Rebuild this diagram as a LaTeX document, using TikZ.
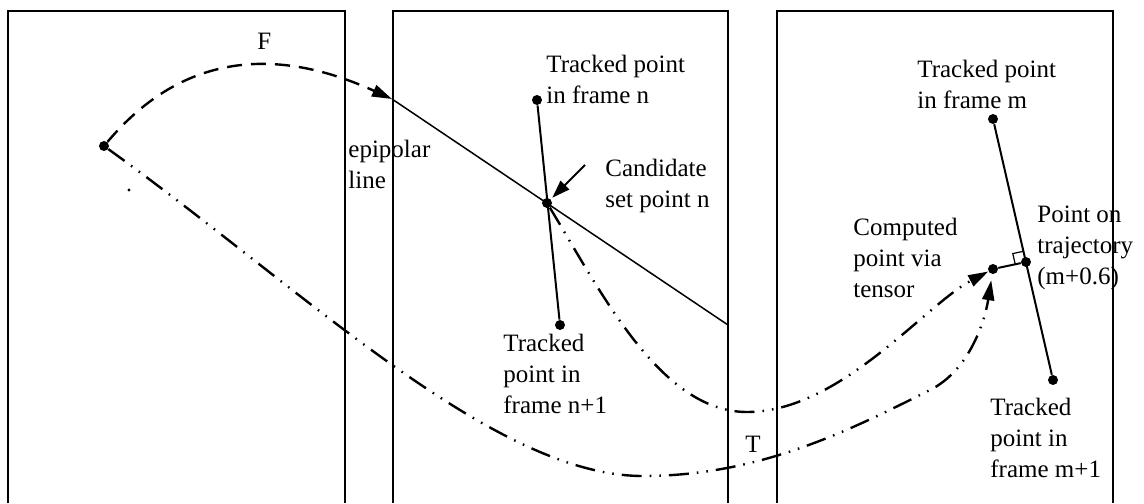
\documentclass[tikz,border=0pt]{standalone}
\usepackage{fontspec}
\setmainfont{Liberation Serif}
\usetikzlibrary{arrows.meta, positioning, calc}

\begin{document}
\begin{tikzpicture}[x=0.5pt, y=-0.5pt,
    every node/.style={font=\fontsize{12.5}{15.5}\selectfont},
    ptdot/.style={circle, fill, inner sep=0pt, minimum size=5pt},
    lbl/.style={anchor=north west, inner sep=0pt, align=left},
    framebox/.style={line width=1pt},
    fcurve/.style={line width=1.2pt, dash pattern=on 7.5pt off 4.5pt,
        -{Triangle[length=10pt,width=6pt]}},
    tcurve/.style={line width=1.2pt,
        dash pattern=on 10pt off 4pt on 0.8pt off 4pt on 0.8pt off 4pt,
        -{Triangle[length=10pt,width=6pt]}}]
        \useasboundingbox (0,0) rectangle (1144,503);

        % three frames, open at the bottom
        \foreach \l/\r in {8/345, 393/728, 777/1113}
            \draw[framebox] (\l,503) |- (\r,11) -- (\r,503);

        % points
        \node[ptdot] (p0) at (104,146) {};
        \node[ptdot] (tn) at (537,100) {};
        \node[ptdot] (cand) at (547,203) {};
        \node[ptdot] (tn1) at (560,325) {};
        \node[ptdot] (tm) at (993,119) {};
        \node[ptdot] (comp) at (993,269) {};
        \node[ptdot] (tp) at (1026,262) {};
        \node[ptdot] (tm1) at (1053,380) {};
        \fill (129,190) circle (0.8pt);

        % epipolar line and tracked segments
        \coordinate (e1) at (392,99);
        \coordinate (e2) at (728,325);
        \draw[line width=0.75pt] (e1) -- (e2);
        \draw[line width=1pt] (tn) -- (tn1);
        \draw[line width=1pt] (tm) -- (tm1);
        \draw[line width=1pt] (comp) -- (tp);

        % right angle mark
        \coordinate (ra) at ($(tp)!5.5pt!(tm)$);
        \coordinate (rb) at ($(tp)!5.5pt!(comp)$);
        \draw[line width=0.6pt] (ra) -- ($(ra)+(rb)-(tp)$) -- (rb);

        % arrow to candidate
        \coordinate (ctail) at (585,165);
        \draw[line width=1pt, shorten >=1pt, -{Triangle[length=9pt,width=6pt]}] (ctail) -- (cand);

        % curves F and T
        \draw[fcurve] (p0) .. controls (185,50) and (280,48) .. (e1);
        \draw[tcurve] (cand) .. controls (600,290) and (660,412) .. (747,412)
            .. controls (840,412) and (925,305) .. (comp);
        \draw[tcurve, shorten >=3pt] (p0) .. controls (304,290) and (493,476) .. (643,476)
            .. controls (760,476) and (850,430) .. (930,390)
            .. controls (970,370) and (985,320) .. (comp);

        % labels
        \node[lbl] (flabel) at (257,33) {F};
        \node[lbl] (tlabel) at (745,436) {T};
        \node[lbl] (epilabel) at (348,140) {epipolar\\line};
        \node[lbl] (tnlabel) at (546,55) {Tracked point\\in frame n};
        \node[lbl] (candlabel) at (605,159) {Candidate\\set point n};
        \node[lbl] (tn1label) at (503,334) {Tracked\\point in\\frame n+1};
        \node[lbl] (tmlabel) at (917,60) {Tracked point\\in frame m};
        \node[lbl] (complabel) at (853,218) {Computed\\point via\\tensor};
        \node[lbl] (tplabel) at (1037,206) {Point on\\trajectory\\(m+0.6)};
        \node[lbl] (tm1label) at (990,398) {Tracked\\point in\\frame m+1};
    \end{tikzpicture}
\end{document}
